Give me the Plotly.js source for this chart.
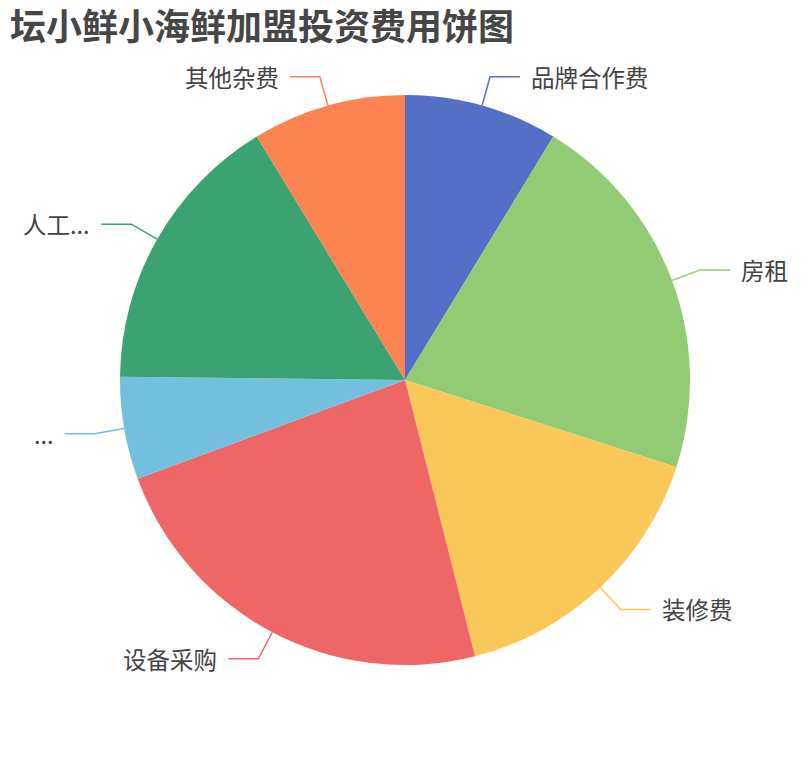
<!DOCTYPE html>
<html>
<head>
<meta charset="utf-8">
<script src="https://cdn.plot.ly/plotly-3.0.1.min.js"></script>
<style>html,body{margin:0;padding:0;background:#fff;}#chart{width:810px;height:760px;}</style>
</head>
<body>
<div id="chart"></div>
<script>
// Data (share of total, %)
var categories = ['品牌合作费', '房租', '装修费', '设备采购', '...', '人工...', '其他杂费'];
var values = [8.7, 21.2, 16.1, 23.3, 5.8, 16.1, 8.7];
var colors = ['#5470c6', '#91cc75', '#fac858', '#ee6666', '#73c0de', '#3ba272', '#fc8452'];

var W = 810, H = 760;
var CX = 405, CY = 380, R = 285;
var LEN1 = 30, LEN2 = 30, GAP = 10;

function px(x) { return x / W; }
function py(y) { return 1 - y / H; }

var total = values.reduce(function (a, b) { return a + b; }, 0);
var shapes = [], annotations = [];
var cum = 0;
values.forEach(function (v, i) {
  var mid = (cum + v / 2) / total * 2 * Math.PI;
  cum += v;
  var sx = CX + R * Math.sin(mid), sy = CY - R * Math.cos(mid);
  var ex = CX + (R + LEN1) * Math.sin(mid), ey = CY - (R + LEN1) * Math.cos(mid);
  var right = Math.sin(mid) >= 0;
  var hx = ex + (right ? LEN2 : -LEN2);
  shapes.push({
    type: 'path', xref: 'paper', yref: 'paper',
    path: 'M ' + px(sx) + ' ' + py(sy) + ' L ' + px(ex) + ' ' + py(ey) + ' L ' + px(hx) + ' ' + py(ey),
    line: {color: colors[i], width: 1.5}
  });
  annotations.push({
    xref: 'paper', yref: 'paper',
    x: px(hx + (right ? GAP : -GAP)), y: py(ey),
    xanchor: right ? 'left' : 'right', yanchor: 'middle',
    text: categories[i], showarrow: false, borderpad: 0,
    font: {family: '"Noto Sans CJK SC", "Noto Sans", sans-serif', size: 23.5, color: '#444'}
  });
});

var trace = {
  type: 'pie',
  labels: categories,
  values: values,
  sort: false,
  direction: 'clockwise',
  rotation: 0,
  textinfo: 'none',
  hoverinfo: 'label+value+percent',
  marker: {colors: colors, line: {width: 0}},
  domain: {x: [px(CX - R), px(CX + R)], y: [py(CY + R), py(CY - R)]},
  showlegend: false
};

var layout = {
  width: W, height: H,
  margin: {l: 0, r: 0, t: 0, b: 0},
  paper_bgcolor: '#fff',
  showlegend: false,
  title: {
    text: '<b>坛小鲜小海鲜加盟投资费用饼图</b>',
    xref: 'paper', x: 10 / W, xanchor: 'left',
    yref: 'container', y: 1 - 27 / H, yanchor: 'middle',
    font: {family: '"Noto Sans CJK SC", "Noto Sans", sans-serif', size: 36, color: '#464646'}
  },
  shapes: shapes,
  annotations: annotations
};

Plotly.newPlot('chart', [trace], layout, {displayModeBar: false, staticPlot: true});
</script>
</body>
</html>
